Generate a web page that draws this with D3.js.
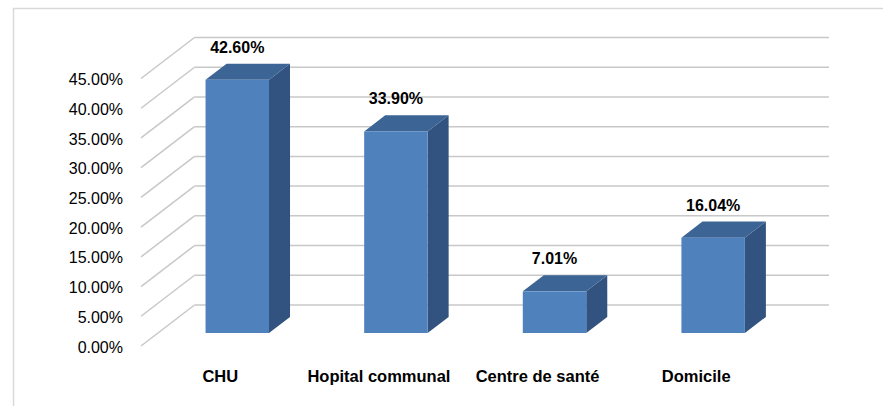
<!DOCTYPE html>
<html>
<head>
<meta charset="utf-8">
<script src="https://cdn.jsdelivr.net/npm/d3@7"></script>
<style>
  body { margin: 0; background: #fff; }
  text { font-family: "Liberation Sans", Arial, sans-serif; fill: #000; }
</style>
</head>
<body>
<script>
// data
var categories = ["CHU", "Hopital communal", "Centre de santé", "Domicile"]
var values = [42.60, 33.90, 7.01, 16.04]
var valueLabels = ["42.60%", "33.90%", "7.01%", "16.04%"]
var ticks = [0, 5, 10, 15, 20, 25, 30, 35, 40, 45]

var width = 883
var height = 406

var svg = d3.select("body")
  .append("svg")
    .attr("width", width)
    .attr("height", height)

// outer chart border
svg.append("rect")
  .attr("x", 13.5).attr("y", 8.5)
  .attr("width", 880).attr("height", 420)
  .attr("fill", "none")
  .attr("stroke", "#d9d9d9")
  .attr("stroke-width", 1.5)

// 3d projection: depth offset of the floor
var depthX = 53.5, depthY = -41
var frontFrac = 0.317, backFrac = 0.71

// scales (front plane)
var x = d3.scaleBand()
  .domain(categories)
  .range([141, 775.5])
  .paddingInner(0.6)
  .paddingOuter(0.3)

var y = d3.scaleLinear()
  .domain([0, 45])
  .range([346, 78.5])

// gridlines: diagonal on the side + horizontal on the back wall
var grid = svg.append("g")
grid.selectAll(".diag")
  .data(ticks)
  .enter()
  .append("line")
    .attr("x1", x.range()[0])
    .attr("y1", function(d){ return y(d) })
    .attr("x2", x.range()[0] + depthX)
    .attr("y2", function(d){ return y(d) + depthY })
    .attr("stroke", "#c8c8c8")
    .attr("stroke-width", 1.5)

grid.selectAll(".back")
  .data(ticks)
  .enter()
  .append("line")
    .attr("x1", x.range()[0] + depthX)
    .attr("y1", function(d){ return y(d) + depthY })
    .attr("x2", x.range()[1] + depthX)
    .attr("y2", function(d){ return y(d) + depthY })
    .attr("stroke", "#c8c8c8")
    .attr("stroke-width", 1.5)

// y tick labels
svg.append("g")
  .selectAll("text")
  .data(ticks)
  .enter()
  .append("text")
    .attr("x", 123)
    .attr("y", function(d){ return y(d) + 1 })
    .attr("dy", "0.35em")
    .attr("text-anchor", "end")
    .style("font-size", "16px")
    .text(function(d){ return d3.format(".2f")(d) + "%" })

// bars
var data = categories.map(function(c, i){ return {cat: c, value: values[i], label: valueLabels[i]} })

var bars = svg.append("g")
  .selectAll("g")
  .data(data)
  .enter()
  .append("g")

function pt(px, py) { return px + "," + py }

bars.each(function(d) {
  var g = d3.select(this)
  var x0 = x(d.cat) + frontFrac * depthX
  var x1 = x0 + x.bandwidth()
  var yb = y(0) + frontFrac * depthY
  var yt = y(d.value) + frontFrac * depthY
  var ox = (backFrac - frontFrac) * depthX
  var oy = (backFrac - frontFrac) * depthY

  // side face
  g.append("polygon")
    .attr("points", [pt(x1, yt), pt(x1 + ox, yt + oy), pt(x1 + ox, yb + oy), pt(x1, yb)].join(" "))
    .attr("fill", "#325380")
  // top face
  g.append("polygon")
    .attr("points", [pt(x0, yt), pt(x0 + ox, yt + oy), pt(x1 + ox, yt + oy), pt(x1, yt)].join(" "))
    .attr("fill", "#3c6494")
  // front face
  g.append("rect")
    .attr("x", x0).attr("y", yt)
    .attr("width", x.bandwidth()).attr("height", yb - yt)
    .attr("fill", "#4f81bd")

  // value label
  g.append("text")
    .attr("x", x0 + x.bandwidth() / 2)
    .attr("y", yt + oy - 11)
    .attr("text-anchor", "middle")
    .style("font-size", "16px")
    .style("font-weight", "bold")
    .text(d.label)
})

// category labels
svg.append("g")
  .selectAll("text")
  .data(categories)
  .enter()
  .append("text")
    .attr("x", function(d){ return x(d) + x.bandwidth() / 2 })
    .attr("y", 382)
    .attr("text-anchor", "middle")
    .style("font-size", "16.5px")
    .style("font-weight", "bold")
    .text(function(d){ return d })
</script>
</body>
</html>
